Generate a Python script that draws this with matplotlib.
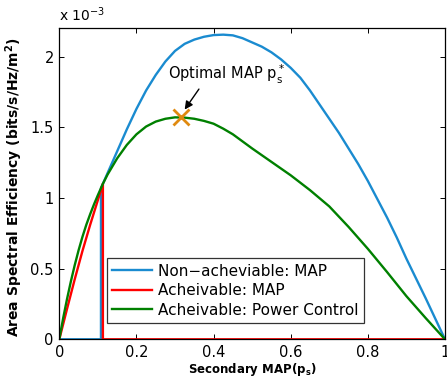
import matplotlib
matplotlib.use("Agg")
import matplotlib.pyplot as plt

plt.rcParams['font.family'] = ['DejaVu Sans']
plt.rcParams['mathtext.default'] = 'regular'

# Area spectral efficiency, in units of 1e-3 bits/s/Hz/m^2
blue_x = [0, 0.108, 0.108, 0.113, 0.125, 0.15, 0.175, 0.2, 0.225, 0.25, 0.275, 0.3,
          0.325, 0.35, 0.375, 0.4, 0.425, 0.45, 0.475, 0.5, 0.525, 0.55, 0.575,
          0.6, 0.625, 0.65, 0.675, 0.7, 0.725, 0.75, 0.775, 0.8, 0.825, 0.85,
          0.875, 0.9, 0.925, 0.95, 0.975, 1.0]
blue_y = [0, 0, 1.07, 1.10, 1.175, 1.33, 1.485, 1.63, 1.76, 1.87, 1.965, 2.04,
          2.09, 2.12, 2.14, 2.152, 2.155, 2.15, 2.13, 2.10, 2.07, 2.03, 1.98,
          1.92, 1.85, 1.76, 1.66, 1.56, 1.46, 1.35, 1.24, 1.12, 0.99, 0.86,
          0.72, 0.57, 0.43, 0.29, 0.145, 0]

red_x = [0, 0.02, 0.04, 0.06, 0.08, 0.10, 0.113, 0.113, 1.0]
red_y = [0, 0.215, 0.425, 0.625, 0.81, 0.985, 1.10, 0, 0]

green_x = [0, 0.01, 0.02, 0.03, 0.04, 0.05, 0.06, 0.07, 0.08, 0.09, 0.1, 0.113,
           0.125, 0.15, 0.175, 0.2, 0.225, 0.25, 0.275, 0.3, 0.325, 0.35, 0.375,
           0.4, 0.425, 0.45, 0.475, 0.5, 0.55, 0.6, 0.65, 0.7, 0.75, 0.8, 0.85,
           0.9, 0.95, 1.0]
green_y = [0, 0.15, 0.285, 0.41, 0.525, 0.63, 0.725, 0.81, 0.885, 0.955, 1.02, 1.10,
           1.165, 1.28, 1.375, 1.45, 1.505, 1.54, 1.56, 1.57, 1.568, 1.56, 1.545,
           1.525, 1.49, 1.45, 1.40, 1.35, 1.255, 1.16, 1.055, 0.94, 0.795, 0.64,
           0.475, 0.305, 0.15, 0]

opt_x = 0.315
opt_y = 1.57

labels = ["Non\u2212acheviable: MAP", "Acheivable: MAP", "Acheivable: Power Control"]
xticks = [0, 0.2, 0.4, 0.6, 0.8, 1]
xtick_labels = ["0", "0.2", "0.4", "0.6", "0.8", "1"]
yticks = [0, 0.5, 1, 1.5, 2]
ytick_labels = ["0", "0.5", "1", "1.5", "2"]

SCALE = 1e-3

fig = plt.figure(figsize=(4.47, 3.86), dpi=100)
ax = fig.add_axes([0.1327, 0.121, 0.8628, 0.8057])

ax.plot(blue_x, [v * SCALE for v in blue_y], color="#1A8BD0", lw=1.7, label=labels[0])
ax.plot(red_x, [v * SCALE for v in red_y], color="#FF0000", lw=1.7, label=labels[1])
ax.plot(green_x, [v * SCALE for v in green_y], color="#008000", lw=1.7, label=labels[2])
ax.plot([opt_x], [opt_y * SCALE], "x", color="#E08A10", ms=11, mew=2, zorder=5)

ax.annotate("", xy=(0.325, 1.625e-3), xytext=(0.362, 1.77e-3),
            arrowprops=dict(arrowstyle="-|>", color="black", lw=1,
                            mutation_scale=12, shrinkA=0, shrinkB=0))
ax.text(0.282, 1.835e-3, "Optimal MAP $p_s^*$", fontsize=10.5, ha="left",
        va="baseline")

ax.set_xlim(0, 1)
ax.set_ylim(0, 2.2e-3)
ax.set_xticks(xticks)
ax.set_xticklabels(xtick_labels)
ax.set_yticks([v * SCALE for v in yticks])
ax.set_yticklabels(ytick_labels)
ax.tick_params(direction="in", length=3.5, width=0.7, top=True, right=True,
               labelsize=10.5, pad=4)
for s in ax.spines.values():
    s.set_linewidth(0.9)

ax.text(0.0, 1.015, "x 10$^{-3}$", transform=ax.transAxes, fontsize=10,
        ha="left", va="bottom")

ax.set_xlabel("Secondary MAP($p_s$)", fontsize=8.5, fontweight="bold")
ax.xaxis.set_label_coords(0.5, -0.07)
ax.set_ylabel("Area Spectral Efficiency (bits/s/Hz/m$^2$)", fontsize=10,
              fontweight="bold")
ax.yaxis.set_label_coords(-0.09, 0.49)

leg = ax.legend(loc="lower left", bbox_to_anchor=(0.124, 0.052), fontsize=11,
                frameon=True, fancybox=False, borderaxespad=0, handlelength=2.6,
                handletextpad=0.4, borderpad=0.35, labelspacing=0.3)
leg.get_frame().set_edgecolor("black")
leg.get_frame().set_linewidth(0.9)

fig.savefig("out.png", dpi=100)
